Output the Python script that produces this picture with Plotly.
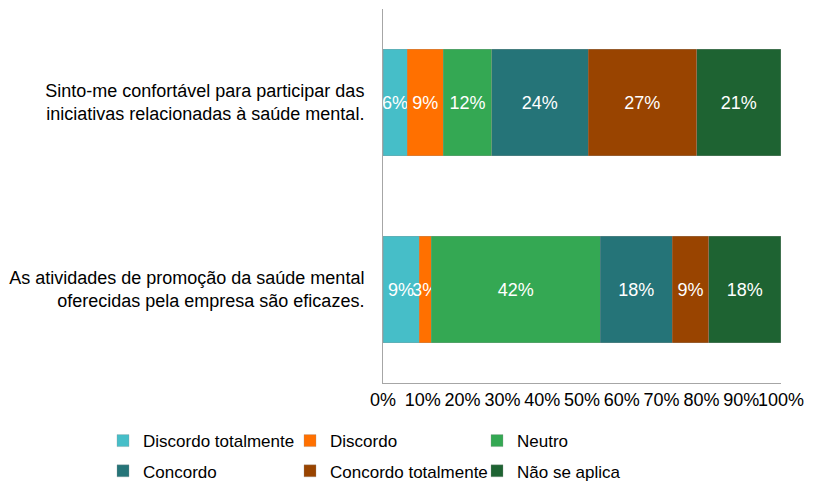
import plotly.graph_objects as go

# perguntas (de cima para baixo)
categories = [
    "Sinto-me confortável para participar das<br>iniciativas relacionadas à saúde mental.",
    "As atividades de promoção da saúde mental<br>oferecidas pela empresa são eficazes.",
]

# respostas
series_names = ["Discordo totalmente", "Discordo", "Neutro",
                "Concordo", "Concordo totalmente", "Não se aplica"]
series_colors = ["#46BEC8", "#FF7000", "#34A853",
                 "#257478", "#994400", "#1E6332"]

# percentagem de respostas por pergunta (ordem: categories)
discordo_totalmente = [6.06, 9.09]
discordo = [9.09, 3.03]
neutro = [12.12, 42.42]
concordo = [24.24, 18.18]
concordo_totalmente = [27.27, 9.09]
nao_se_aplica = [21.21, 18.18]

series_values = [discordo_totalmente, discordo, neutro,
                 concordo, concordo_totalmente, nao_se_aplica]

x_ticks = list(range(0, 101, 10))

FONT = "Liberation Sans, Arial, sans-serif"
FS = 18

fig = go.Figure()

for i, (name, vals, color) in enumerate(zip(series_names, series_values, series_colors)):
    fig.add_trace(go.Bar(
        y=categories,
        x=vals,
        name=name,
        orientation="h",
        marker=dict(color=color, line=dict(color="rgba(150,150,150,0.5)", width=0.6)),
        text=[f"{v:.0f}%" for v in vals],
        textposition="inside",
        insidetextanchor="middle",
        textangle=0,
        textfont=dict(color="white", size=FS, family=FONT),
        legend="legend" if i < 3 else "legend2",
        hoverinfo="skip",
    ))

legend_style = dict(
    orientation="h",
    xanchor="left",
    yanchor="top",
    x=-0.7035,
    entrywidth=142,
    entrywidthmode="pixels",
    font=dict(size=17, family=FONT, color="black"),
    bgcolor="rgba(0,0,0,0)",
    traceorder="normal",
)

fig.update_layout(
    width=818,
    height=491,
    barmode="stack",
    bargap=0.43,
    plot_bgcolor="white",
    paper_bgcolor="white",
    margin=dict(l=375, r=45, t=1, b=116),
    font=dict(family=FONT, size=FS, color="black"),
    uniformtext=dict(minsize=FS, mode="show"),
    legend=dict(legend_style, y=-0.107),
    legend2=dict(legend_style, y=-0.188),
    showlegend=True,
)

fig.update_xaxes(
    range=[0, 100],
    tickvals=x_ticks,
    ticktext=[f"{t}%" for t in x_ticks],
    tickangle=0,
    showgrid=False,
    zeroline=False,
    showline=True,
    linecolor="#A6A6A6",
    linewidth=1,
    ticks="",
    tickfont=dict(size=FS, family=FONT, color="black"),
)

fig.update_yaxes(
    autorange="reversed",
    showgrid=False,
    showline=True,
    linecolor="#A6A6A6",
    linewidth=1,
    ticks="",
    ticklabelstandoff=14,
    tickfont=dict(size=FS, family=FONT, color="black"),
)

fig.write_html("out.html")
